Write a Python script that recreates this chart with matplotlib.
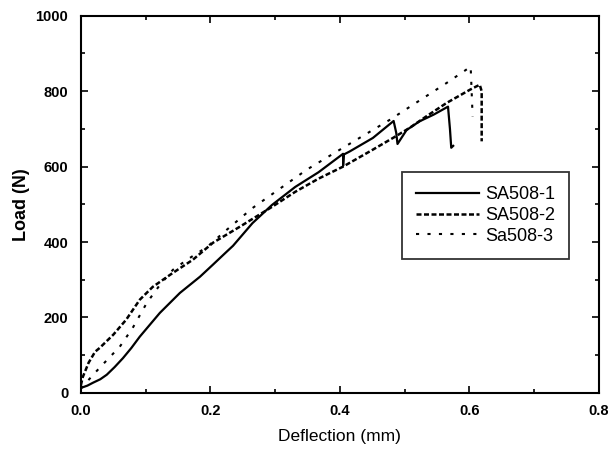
import matplotlib.pyplot as plt
import numpy as np
from matplotlib.ticker import MultipleLocator

plt.rcParams['font.family'] = ['Liberation Sans', 'DejaVu Sans']

# SA508-1 (solid)
x1 = [0.0, 0.01, 0.019, 0.03, 0.04, 0.052, 0.065, 0.078, 0.091, 0.122, 0.153, 0.184,
      0.204, 0.225, 0.235, 0.265, 0.295, 0.331, 0.367, 0.405, 0.405, 0.406, 0.415,
      0.451, 0.483, 0.487, 0.489, 0.503, 0.523, 0.545, 0.567, 0.570, 0.572, 0.575]
y1 = [13, 19, 27, 36, 48, 68, 92, 119, 149, 212, 265, 308,
      340, 374, 390, 450, 498, 546, 585, 634, 602, 632, 640,
      676, 721, 690, 660, 697, 720, 738, 759, 700, 650, 655]

# SA508-2 (dashed)
x2 = [0.0, 0.003, 0.012, 0.022, 0.029, 0.05, 0.07, 0.091, 0.111, 0.142, 0.173, 0.204,
      0.245, 0.295, 0.331, 0.367, 0.405, 0.451, 0.482, 0.508, 0.535, 0.565,
      0.601, 0.61, 0.616, 0.619, 0.619]
y2 = [20, 42, 80, 109, 119, 154, 194, 247, 281, 318, 353, 398,
      440, 493, 533, 568, 600, 645, 676, 703, 735, 769,
      804, 812, 817, 800, 667]

# Sa508-3 (dotted)
x3 = [0.0, 0.019, 0.042, 0.06, 0.08, 0.102, 0.122, 0.142, 0.164, 0.195, 0.225,
      0.265, 0.349, 0.403, 0.477, 0.565, 0.602, 0.605]
y3 = [11, 48, 90, 122, 172, 239, 286, 326, 353, 387, 432,
      490, 592, 648, 724, 822, 865, 733]

fig = plt.figure(figsize=(6.08, 4.51), dpi=100)
ax = fig.add_axes([0.133, 0.129, 0.852, 0.836])

ax.plot(x1, y1, color='black', linestyle='-', linewidth=1.6, label='SA508-1')
ax.plot(x2, y2, color='black', linestyle=(0, (2, 1)), linewidth=1.8, label='SA508-2')
ax.plot(x3, y3, color='black', linestyle=(0, (1.5, 4)), linewidth=1.5, label='Sa508-3')

ax.set_xlim(0, 0.8)
ax.set_ylim(0, 1000)
ax.xaxis.set_major_locator(MultipleLocator(0.2))
ax.xaxis.set_minor_locator(MultipleLocator(0.1))
ax.yaxis.set_major_locator(MultipleLocator(200))
ax.yaxis.set_minor_locator(MultipleLocator(100))
ax.tick_params(which='both', direction='in', top=True, right=True, width=1.2)
ax.tick_params(which='major', length=5, labelsize=10.5)
ax.tick_params(which='minor', length=3)
ax.tick_params(axis='x', pad=8)
ax.tick_params(axis='y', pad=9)
for lbl in ax.get_xticklabels() + ax.get_yticklabels():
    lbl.set_fontweight('bold')
for s in ax.spines.values():
    s.set_linewidth(1.5)

ax.set_xlabel('Deflection (mm)', fontsize=12.5, labelpad=8)
ax.set_ylabel('Load (N)', fontsize=13, fontweight='bold', labelpad=4)

leg = ax.legend(loc='upper left', bbox_to_anchor=(0.602, 0.61), fontsize=13,
                frameon=True, fancybox=False, edgecolor='black', handlelength=3.5,
                borderpad=0.8, labelspacing=0.2, handletextpad=0.3)
leg.get_frame().set_linewidth(1.3)

fig.savefig('out.png', dpi=100)
